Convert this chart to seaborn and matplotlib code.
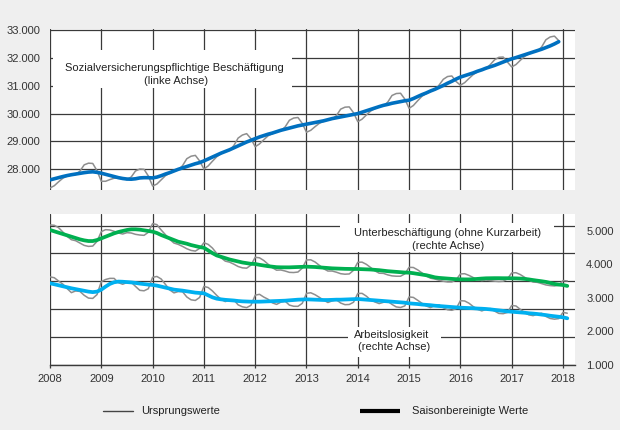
import numpy as np
import pandas as pd
import matplotlib
matplotlib.use("Agg")
import matplotlib.pyplot as plt
import seaborn as sns
from matplotlib.patches import Rectangle
from matplotlib.lines import Line2D
from matplotlib.ticker import FuncFormatter, FixedLocator

# ---------------- data (thousands, monthly from Jan 2008) ----------------
svb_orig = [
    27330, 27410, 27550, 27680, 27755, 27805, 27810, 27935, 28160, 28220, 28210, 27950,
    27570, 27570, 27630, 27680, 27680, 27670, 27630, 27725, 27940, 28010, 28000, 27760,
    27400, 27470, 27620, 27770, 27860, 27940, 27980, 28130, 28380, 28470, 28500, 28300,
    28010, 28120, 28290, 28450, 28560, 28640, 28680, 28850, 29120, 29230, 29280, 29100,
    28810, 28910, 29060, 29200, 29280, 29350, 29380, 29520, 29760, 29840, 29860, 29650,
    29330, 29400, 29530, 29650, 29720, 29780, 29800, 29930, 30160, 30230, 30240, 30030,
    29710, 29800, 29950, 30090, 30180, 30250, 30280, 30410, 30650, 30720, 30730, 30520,
    30190, 30290, 30460, 30620, 30720, 30810, 30850, 31020, 31230, 31330, 31350, 31150,
    31020, 31110, 31260, 31400, 31500, 31570, 31610, 31760, 31930, 32020, 32030, 31850,
    31674, 31760, 31910, 32050, 32140, 32210, 32240, 32390, 32650, 32750, 32780, 32620,
]
svb_sa = [
    27620, 27660, 27700, 27740, 27775, 27805, 27830, 27855, 27880, 27900, 27910, 27890,
    27860, 27820, 27780, 27740, 27700, 27670, 27650, 27645, 27660, 27690, 27700, 27700,
    27690, 27720, 27770, 27830, 27880, 27940, 28000, 28050, 28100, 28150, 28200, 28240,
    28300, 28370, 28440, 28510, 28580, 28640, 28700, 28770, 28840, 28910, 28980, 29040,
    29100, 29160, 29210, 29260, 29300, 29350, 29400, 29440, 29480, 29520, 29560, 29590,
    29620, 29650, 29680, 29710, 29740, 29780, 29820, 29850, 29880, 29910, 29940, 29970,
    30000, 30050, 30100, 30150, 30200, 30250, 30296, 30330, 30370, 30400, 30430, 30460,
    30480, 30540, 30610, 30680, 30740, 30810, 30870, 30940, 31010, 31090, 31160, 31240,
    31310, 31360, 31410, 31460, 31520, 31570, 31630, 31680, 31730, 31790, 31850, 31910,
    31964, 32010, 32060, 32110, 32160, 32210, 32260, 32310, 32370, 32430, 32500, 32580,
]
ub_orig = [
    5180, 5170, 5100, 4970, 4840, 4740, 4710, 4640, 4570, 4540, 4550, 4690,
    4980, 5040, 5030, 4990, 4940, 4910, 4950, 4940, 4900, 4880, 4870, 4960,
    5220, 5190, 5030, 4890, 4750, 4640, 4600, 4540, 4470, 4420, 4400, 4480,
    4650, 4600, 4490, 4330, 4200, 4100, 4070, 4010, 3940, 3900, 3890, 3980,
    4215, 4200, 4120, 4010, 3905, 3830, 3836, 3805, 3765, 3760, 3775, 3890,
    4135, 4140, 4075, 3975, 3875, 3805, 3805, 3770, 3725, 3710, 3718, 3826,
    4066, 4070, 4005, 3910, 3810, 3740, 3735, 3690, 3660, 3650, 3650, 3720,
    3916, 3910, 3840, 3750, 3660, 3590, 3567, 3530, 3500, 3480, 3480, 3542,
    3718, 3725, 3675, 3610, 3550, 3520, 3538, 3520, 3502, 3492, 3500, 3570,
    3748, 3755, 3700, 3620, 3535, 3475, 3467, 3430, 3390, 3370, 3360, 3380,
    3520, 3510,
]
ub_sa = [
    5030, 4990, 4950, 4910, 4870, 4830, 4790, 4750, 4720, 4700, 4700, 4730,
    4780, 4830, 4880, 4930, 4970, 5000, 5030, 5050, 5050, 5040, 5020, 5000,
    4980, 4940, 4880, 4830, 4780, 4730, 4680, 4650, 4620, 4580, 4550, 4520,
    4500, 4420, 4340, 4270, 4230, 4190, 4150, 4120, 4090, 4060, 4040, 4020,
    4015, 3990, 3970, 3950, 3935, 3920, 3916, 3915, 3915, 3920, 3925, 3930,
    3935, 3930, 3925, 3915, 3905, 3895, 3885, 3880, 3875, 3870, 3868, 3866,
    3866, 3860, 3855, 3850, 3840, 3830, 3815, 3800, 3790, 3780, 3770, 3760,
    3756, 3740, 3720, 3700, 3680, 3650, 3617, 3600, 3590, 3580, 3570, 3562,
    3558, 3555, 3555, 3560, 3570, 3580, 3588, 3590, 3592, 3592, 3590, 3590,
    3588, 3585, 3580, 3570, 3555, 3535, 3517, 3500, 3480, 3450, 3420, 3400,
    3388, 3360,
]
al_orig = [
    3630, 3605, 3507, 3413, 3283, 3160, 3210, 3196, 3080, 2997, 2988, 3102,
    3489, 3552, 3586, 3585, 3458, 3410, 3462, 3471, 3346, 3229, 3215, 3276,
    3617, 3643, 3568, 3406, 3242, 3153, 3192, 3188, 3031, 2945, 2927, 3016,
    3346, 3313, 3210, 3078, 2960, 2893, 2939, 2945, 2796, 2737, 2713, 2780,
    3084, 3110, 3028, 2963, 2855, 2809, 2876, 2905, 2788, 2753, 2751, 2840,
    3138, 3156, 3098, 3020, 2937, 2865, 2914, 2946, 2849, 2801, 2806, 2873,
    3136, 3138, 3055, 2943, 2882, 2833, 2871, 2902, 2808, 2733, 2717, 2764,
    3032, 3017, 2932, 2843, 2762, 2711, 2773, 2796, 2708, 2649, 2633, 2681,
    2920, 2911, 2845, 2744, 2664, 2614, 2661, 2684, 2608, 2540, 2532, 2568,
    2777, 2762, 2662, 2569, 2498, 2473, 2518, 2545, 2449, 2389, 2368, 2385,
    2570, 2546,
]
al_sa = [
    3440, 3410, 3380, 3350, 3320, 3290, 3265, 3240, 3215, 3190, 3175, 3190,
    3250, 3340, 3420, 3470, 3490, 3485, 3475, 3465, 3450, 3430, 3415, 3400,
    3390, 3370, 3340, 3310, 3280, 3250, 3235, 3220, 3200, 3180, 3160, 3150,
    3140, 3080, 3020, 2980, 2960, 2945, 2935, 2925, 2910, 2900, 2895, 2890,
    2890, 2890, 2895, 2900, 2905, 2910, 2915, 2920, 2930, 2940, 2950, 2955,
    2960, 2955, 2950, 2945, 2940, 2940, 2945, 2950, 2950, 2955, 2960, 2965,
    2970, 2960, 2950, 2940, 2930, 2920, 2910, 2900, 2890, 2880, 2870, 2860,
    2840, 2830, 2820, 2805, 2795, 2785, 2770, 2760, 2750, 2740, 2730, 2720,
    2711, 2705, 2700, 2695, 2685, 2680, 2672, 2660, 2645, 2630, 2615, 2600,
    2591, 2580, 2570, 2560, 2545, 2535, 2522, 2505, 2490, 2470, 2455, 2440,
    2423, 2394,
]
years = list(range(2008, 2019))
left_ticks = [28000, 29000, 30000, 31000, 32000, 33000]
right_ticks = [1000, 2000, 3000, 4000, 5000]

lbl_svb = ["Sozialversicherungspflichtige Beschäftigung", "(linke Achse)"]
lbl_ub = ["Unterbeschäftigung (ohne Kurzarbeit)", "(rechte Achse)"]
lbl_al = ["Arbeitslosigkeit", "(rechte Achse)"]
legend_labels = ["Ursprungswerte", "Saisonbereinigte Werte"]


def dec_year(n):
    d = pd.date_range("2008-01-01", periods=n, freq="MS")
    return d.year + (d.month - 1) / 12.0


# ---------------- styling ----------------
sns.set_theme(style="white")
plt.rcParams["font.family"] = ["Liberation Sans", "DejaVu Sans"]
FS = 8
TXT = "#333333"
GRID = "#3a3a3a"
GRAY = "#8e8e8e"
BLUE = "#0070C0"
GREEN = "#00B050"
LBLUE = "#00B0F0"
BG = "#efefef"

W, H = 620, 430
fig = plt.figure(figsize=(6.2, 4.3), dpi=100, facecolor=BG)


def rect(l, t, r, b):
    return [l / W, 1 - b / H, (r - l) / W, (b - t) / H]


fmt = FuncFormatter(lambda v, p: f"{v:,.0f}".replace(",", "."))

# ---- top panel ----
ax1 = fig.add_axes(rect(50, 29, 575, 190))
ax1.set_facecolor("white")
x_svb = dec_year(len(svb_orig))
sns.lineplot(x=x_svb, y=svb_orig, ax=ax1, color=GRAY, lw=1.1, legend=False, zorder=3)
sns.lineplot(x=dec_year(len(svb_sa)), y=svb_sa, ax=ax1, color=BLUE, lw=2.6, legend=False, zorder=4)
ax1.set_xlim(2008, 2018.234)
ax1.set_ylim(27257, 33036)
ax1.xaxis.set_major_locator(FixedLocator(years))
ax1.yaxis.set_major_locator(FixedLocator(left_ticks))
ax1.yaxis.set_major_formatter(fmt)
ax1.set_xticklabels([])
ax1.tick_params(axis="x", length=0)
ax1.tick_params(axis="y", length=0, pad=7, labelsize=FS, labelcolor=TXT)
ax1.grid(True, color=GRID, lw=0.9)
ax1.set_axisbelow(True)
for s in ax1.spines.values():
    s.set_visible(False)
ax1.set_xlabel("")
ax1.set_ylabel("")

# ---- bottom panel ----
ax2 = fig.add_axes(rect(50, 213.5, 575, 365))
ax2.set_facecolor("white")
ax2.set_xlim(2008, 2018.234)
ax2.set_ylim(0, 151.5 / 27.9)
ax2.xaxis.set_major_locator(FixedLocator(years))
ax2.yaxis.set_major_locator(FixedLocator([0, 1, 2, 3, 4, 5]))
ax2.set_yticklabels([])
ax2.set_xticklabels([str(y) for y in years])
ax2.tick_params(axis="y", length=0)
ax2.tick_params(axis="x", length=2.5, width=0.9, color=GRID, pad=4, labelsize=FS,
                labelcolor=TXT, direction="out", bottom=True)
ax2.grid(True, color=GRID, lw=0.9)
ax2.set_axisbelow(True)
for k, s in ax2.spines.items():
    s.set_visible(k == "bottom")
ax2.spines["bottom"].set_color(GRID)
ax2.spines["bottom"].set_linewidth(1.0)

ax2r = ax2.twinx()
x_m = dec_year(len(ub_orig))
sns.lineplot(x=x_m, y=ub_orig, ax=ax2r, color=GRAY, lw=1.1, legend=False, zorder=3)
sns.lineplot(x=x_m, y=al_orig, ax=ax2r, color=GRAY, lw=1.1, legend=False, zorder=3)
sns.lineplot(x=dec_year(len(ub_sa)), y=ub_sa, ax=ax2r, color=GREEN, lw=2.7, legend=False, zorder=4)
sns.lineplot(x=dec_year(len(al_sa)), y=al_sa, ax=ax2r, color=LBLUE, lw=2.7, legend=False, zorder=4)
ax2r.set_xlim(2008, 2018.234)
ax2r.set_ylim(1000, 5522)
ax2r.yaxis.set_major_locator(FixedLocator(right_ticks))
ax2r.yaxis.set_major_formatter(fmt)
ax2r.tick_params(axis="y", length=0, pad=8, labelsize=FS, labelcolor=TXT)
ax2r.grid(False)
for s in ax2r.spines.values():
    s.set_visible(False)
ax2r.set_xlabel("")
ax2r.set_ylabel("")


# ---- label boxes & texts (figure pixel coordinates) ----
def box(l, t, r, b):
    fig.add_artist(Rectangle((l / W, 1 - b / H), (r - l) / W, (b - t) / H,
                             transform=fig.transFigure, facecolor="white",
                             edgecolor="none", zorder=5))


def label(x, y, s):
    fig.text(x / W, 1 - y / H, s, ha="center", va="center", fontsize=FS,
             color="#222222", zorder=6)


box(53, 50, 292, 88)
label(174, 68, lbl_svb[0])
label(176, 81, lbl_svb[1])

box(340, 223, 554, 252)
label(448, 233.5, lbl_ub[0])
label(448, 245.5, lbl_ub[1])

box(348, 327, 441, 357)
label(392, 335, lbl_al[0])
label(394.5, 346.7, lbl_al[1])

# ---- legend ----
ly = 1 - 410.7 / H
fig.add_artist(Line2D([103 / W, 133 / W], [ly, ly], transform=fig.transFigure,
                      color="#444444", lw=1.0))
fig.text(141 / W, ly, legend_labels[0], ha="left", va="center", fontsize=FS, color="#222222")
fig.add_artist(Line2D([360 / W, 400 / W], [ly, ly], transform=fig.transFigure,
                      color="black", lw=3.0, solid_capstyle="butt"))
fig.text(412 / W, ly, legend_labels[1], ha="left", va="center", fontsize=FS, color="#222222")

fig.savefig("out.png", dpi=100, facecolor=BG)
